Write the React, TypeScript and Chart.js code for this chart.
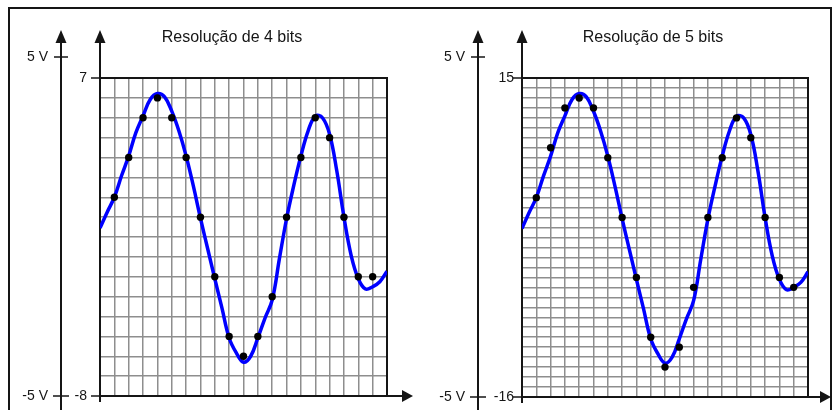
import { useEffect, useRef } from 'react';
import { Chart, registerables } from 'chart.js';

Chart.register(...registerables);

// Sampling instants (in grid divisions)
const SAMPLE_T = [1, 2, 3, 4, 5, 6, 7, 8, 9, 10, 11, 12, 13, 14, 15, 16, 17, 18, 19];

// Quantized codes at each sampling instant
const CODES_4BIT = [2, 4, 6, 7, 6, 4, 1, -2, -5, -6, -5, -3, 1, 4, 6, 5, 1, -2, -2];
const CODES_5BIT = [4, 9, 13, 14, 13, 8, 2, -4, -10, -13, -11, -5, 2, 8, 12, 10, 2, -4, -5];

// Continuous analog signal (expressed on the 4-bit code scale)
const SIGNAL_T = [
  0, 0.5, 1, 1.5, 2, 2.5, 3, 3.5, 4, 4.5, 5, 5.5, 6, 6.5, 7, 7.5, 8, 8.5, 9, 9.5, 10,
  10.5, 11, 11.5, 12, 12.5, 13, 13.5, 14, 14.5, 15, 15.5, 16, 16.5, 17, 17.5, 18, 18.5, 19, 19.5, 20,
];
const SIGNAL = [
  0.45, 1.25, 2.0, 3.08, 4.08, 5.25, 6.1, 6.92, 7.22, 7.05, 6.33, 5.33, 4.08, 2.58, 0.95,
  -0.58, -2.1, -3.58, -5.08, -5.83, -6.3, -6.0, -5.08, -4.08, -3.17, -1.1, 0.92, 2.58, 4.08,
  5.33, 6.08, 6.0, 5.17, 3.33, 1.0, -0.92, -2.1, -2.62, -2.5, -2.25, -1.72,
];

const GRID_COLS = [0, 1, 2, 3, 4, 5, 6, 7, 8, 9, 10, 11, 12, 13, 14, 15, 16, 17, 18, 19, 20];
const RANGE_4BIT = [-8, 8];
const RANGE_5BIT = [-16, 16];
const SIGNAL_RANGE = [-8, 8];

const CODE_LABELS_4BIT = ['7', '-8'];
const CODE_LABELS_5BIT = ['15', '-16'];
const VOLT_LABELS = ['5 V', '-5 V'];
const TITLES = ['Resolução de 4 bits', 'Resolução de 5 bits'];

const INK = '#151515';
const GRID = '#8e8e8e';
const FONT = '"Liberation Sans", Arial, sans-serif';

type PanelSpec = {
  title: string;
  codes: number[];
  range: number[];
  codeLabels: string[];
  left: number;
  layout: { left: number; top: number; right: number; bottom: number };
  voltX: number;
  codeGap: number;
  xArrowTip: number;
  titleX: number;
};

const PANELS: PanelSpec[] = [
  {
    title: TITLES[0],
    codes: CODES_4BIT,
    range: RANGE_4BIT,
    codeLabels: CODE_LABELS_4BIT,
    left: 0,
    layout: { left: 100, top: 78, right: 29, bottom: 14 },
    voltX: 61,
    codeGap: 13,
    xArrowTip: 413,
    titleX: 232,
  },
  {
    title: TITLES[1],
    codes: CODES_5BIT,
    range: RANGE_5BIT,
    codeLabels: CODE_LABELS_5BIT,
    left: 416,
    layout: { left: 106, top: 78, right: 24, bottom: 13 },
    voltX: 62,
    codeGap: 8,
    xArrowTip: 415,
    titleX: 237,
  },
];

// Axes, arrows, labels and title of one panel
const diagramPlugin = {
  id: 'diagram',
  beforeDatasetsDraw(chart: any, _args: any, o: any) {
    const { ctx, chartArea: a } = chart;
    const ys = chart.scales.y;
    const seg = (x1: number, y1: number, x2: number, y2: number) => {
      ctx.beginPath();
      ctx.moveTo(x1, y1);
      ctx.lineTo(x2, y2);
      ctx.stroke();
    };
    const upArrow = (x: number, tip: number) => {
      ctx.beginPath();
      ctx.moveTo(x, tip);
      ctx.lineTo(x - 5.5, tip + 13);
      ctx.lineTo(x + 5.5, tip + 13);
      ctx.closePath();
      ctx.fill();
    };
    ctx.save();
    ctx.strokeStyle = INK;
    ctx.fillStyle = INK;
    ctx.lineWidth = 2;

    const arrowTip = 30;
    // grid frame (top and right)
    seg(a.left - 1, a.top, a.right + 1, a.top);
    seg(a.right, a.top, a.right, a.bottom);
    // code axis
    seg(a.left, arrowTip + 8, a.left, a.bottom + 6);
    upArrow(a.left, arrowTip);
    // time axis
    seg(a.left - 1, a.bottom, o.xArrowTip - 8, a.bottom);
    ctx.beginPath();
    ctx.moveTo(o.xArrowTip, a.bottom);
    ctx.lineTo(o.xArrowTip - 11, a.bottom - 6);
    ctx.lineTo(o.xArrowTip - 11, a.bottom + 6);
    ctx.closePath();
    ctx.fill();

    // code scale end labels
    const yTop = ys.getPixelForValue(ys.max);
    const yBot = ys.getPixelForValue(ys.min);
    ctx.lineWidth = 1.5;
    seg(a.left - 9, yTop, a.left, yTop);
    seg(a.left - 9, yBot, a.left, yBot);
    ctx.font = `14px ${FONT}`;
    ctx.textAlign = 'right';
    ctx.textBaseline = 'middle';
    ctx.fillText(o.codeLabels[0], a.left - o.codeGap, yTop);
    ctx.fillText(o.codeLabels[1], a.left - o.codeGap, yBot + 0.5);

    // voltage axis
    ctx.lineWidth = 2;
    seg(o.voltX, arrowTip + 8, o.voltX, chart.height + 2);
    upArrow(o.voltX, arrowTip);
    ctx.lineWidth = 1.5;
    const vTop = a.top - 21;
    seg(o.voltX - 7, vTop, o.voltX + 7, vTop);
    seg(o.voltX - 8, yBot, o.voltX + 8, yBot);
    ctx.fillText(o.voltLabels[0], o.voltX - 13, vTop + 0.5);
    ctx.fillText(o.voltLabels[1], o.voltX - 13, yBot + 0.5);

    // title
    ctx.font = `16px ${FONT}`;
    ctx.textAlign = 'center';
    ctx.textBaseline = 'alphabetic';
    ctx.fillText(o.title, o.titleX, 42);
    ctx.restore();
  },
};

function makeConfig(p: PanelSpec): any {
  const intTicks = (lo: number, hi: number) => {
    const t: { value: number }[] = [];
    for (let v = lo; v <= hi; v++) t.push({ value: v });
    return t;
  };
  return {
    type: 'line',
    data: {
      datasets: [
        {
          label: 'amostras',
          data: SAMPLE_T.map((t, i) => ({ x: t, y: p.codes[i] })),
          yAxisID: 'y',
          showLine: false,
          pointRadius: 3.7,
          pointBackgroundColor: '#000',
          pointBorderWidth: 0,
          order: 0,
        },
        {
          label: 'sinal',
          data: SIGNAL_T.map((t, i) => ({ x: t, y: SIGNAL[i] })),
          yAxisID: 'v',
          borderColor: '#0000ff',
          borderWidth: 3.5,
          pointRadius: 0,
          tension: 0.4,
          fill: false,
          order: 1,
        },
      ],
    },
    options: {
      animation: false,
      responsive: false,
      events: [],
      layout: { padding: p.layout, autoPadding: false },
      plugins: {
        legend: { display: false },
        tooltip: { enabled: false },
        diagram: {
          title: p.title,
          codeLabels: p.codeLabels,
          voltLabels: VOLT_LABELS,
          voltX: p.voltX,
          codeGap: p.codeGap,
          xArrowTip: p.xArrowTip,
          titleX: p.titleX,
        },
      },
      scales: {
        x: {
          type: 'linear',
          min: GRID_COLS[0],
          max: GRID_COLS[GRID_COLS.length - 1],
          afterFit: (s: any) => {
            s.height = 0;
          },
          afterBuildTicks: (s: any) => {
            s.ticks = GRID_COLS.map((v) => ({ value: v }));
          },
          ticks: { display: false },
          grid: { color: GRID, lineWidth: 1.5, drawTicks: false },
          border: { display: false },
        },
        y: {
          type: 'linear',
          position: 'left',
          min: p.range[0],
          max: p.range[1],
          afterFit: (s: any) => {
            s.width = 0;
          },
          afterBuildTicks: (s: any) => {
            s.ticks = intTicks(p.range[0], p.range[1]);
          },
          ticks: { display: false },
          grid: { color: GRID, lineWidth: 1.5, drawTicks: false },
          border: { display: false },
        },
        v: {
          type: 'linear',
          position: 'right',
          display: false,
          min: SIGNAL_RANGE[0],
          max: SIGNAL_RANGE[1],
        },
      },
    },
    plugins: [diagramPlugin],
  };
}

function Panel({ spec }: { spec: PanelSpec }) {
  const ref = useRef<HTMLCanvasElement | null>(null);
  useEffect(() => {
    if (!ref.current) return;
    const chart = new Chart(ref.current, makeConfig(spec));
    return () => chart.destroy();
  }, [spec]);
  return (
    <canvas
      ref={ref}
      width={416}
      height={410}
      style={{ position: 'absolute', left: spec.left, top: 0, width: 416, height: 410 }}
    />
  );
}

export default function App() {
  return (
    <div
      style={{
        position: 'absolute',
        left: 0,
        top: 0,
        width: 832,
        height: 410,
        overflow: 'hidden',
        background: '#fff',
      }}
    >
      <div
        style={{
          position: 'absolute',
          left: 8,
          top: 7,
          width: 824,
          height: 440,
          border: `2px solid ${INK}`,
          boxSizing: 'border-box',
        }}
      />
      {PANELS.map((p) => (
        <Panel key={p.title} spec={p} />
      ))}
    </div>
  );
}
